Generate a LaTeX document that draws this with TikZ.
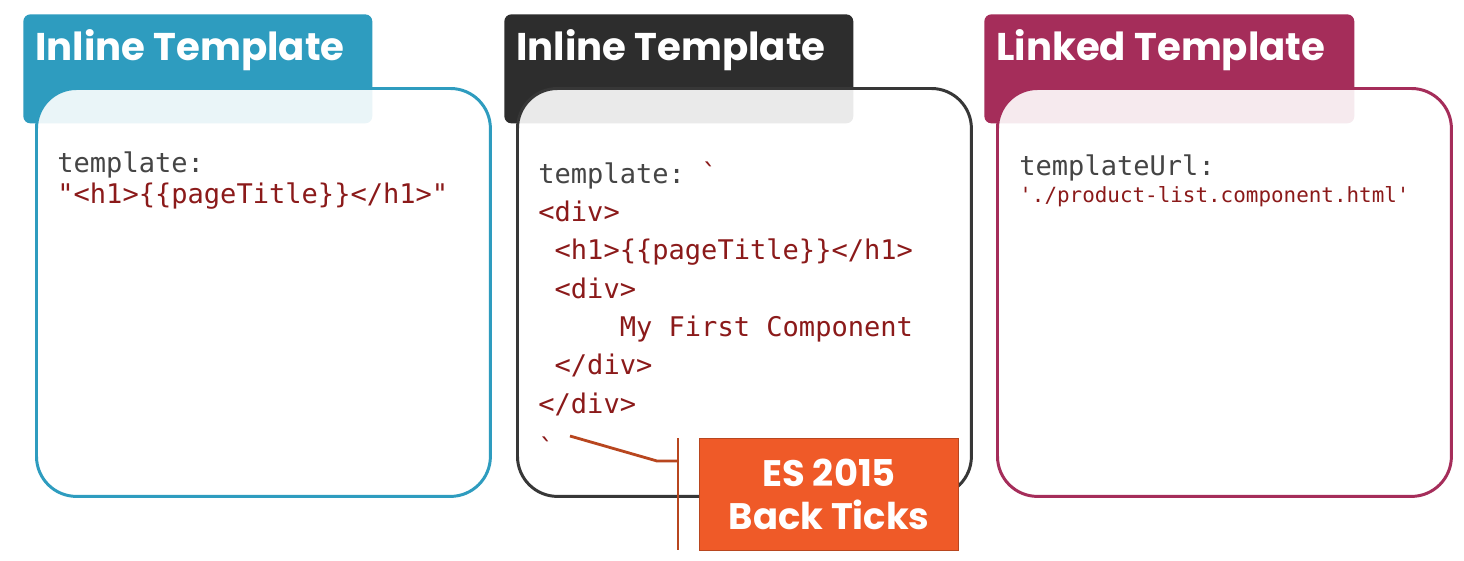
\documentclass[tikz,border=0pt]{standalone}
\usepackage{fontspec}
\setmainfont{Poppins}
\setmonofont{DejaVu Sans Mono}
\usetikzlibrary{positioning}

\definecolor{tealblue}{HTML}{2E9CBF}
\definecolor{darkgrey}{HTML}{2D2D2D}
\definecolor{berry}{HTML}{A52D5A}
\definecolor{codegrey}{HTML}{454545}
\definecolor{codered}{HTML}{8B1A1A}
\definecolor{callout}{HTML}{EF5A28}
\definecolor{calloutline}{HTML}{B8461F}

\newcommand{\tick}{\symbol{96}}
\newcommand{\ind}{\hphantom{x}}

\begin{document}
\begin{tikzpicture}[x=0.02cm, y=-0.02cm,
  tab/.style={rectangle, rounded corners=4pt, anchor=north west, minimum height=2.18cm, inner sep=0pt},
  title/.style={anchor=base west, text=white, inner sep=0pt, font=\bfseries\fontsize{22}{28}\selectfont},
  panel/.style={rectangle, rounded corners=0.8cm, line width=1.7pt, fill=white, fill opacity=0.9, anchor=north west, minimum width=9.08cm, minimum height=8.16cm},
  code/.style={anchor=base west, inner sep=0pt, align=left, font=\ttfamily\fontsize{15.4}{17.6}\selectfont},
  pointer/.style={draw=calloutline, line width=1.6pt}]
\fill[white] (0,0) rectangle (1464,561);
\useasboundingbox (0,0) rectangle (1464,561);
% tabs
\node[tab, fill=tealblue, minimum width=6.98cm] (tabA) at (23,14) {};
\node[tab, fill=darkgrey, minimum width=6.98cm] (tabB) at (504,14) {};
\node[tab, fill=berry, minimum width=7.4cm] (tabC) at (984,14) {};
\node[title] (titleA) at (35,60) {Inline Template};
\node[title] (titleB) at (516,60) {Inline Template};
\node[title] (titleC) at (996,60) {Linked Template};
% panels
\node[panel, draw=tealblue] (boxA) at (35,87) {};
\node[panel, draw=darkgrey!95] (boxB) at (516,87) {};
\node[panel, draw=berry] (boxC) at (996,87) {};
% code (base = last line)
\node[code, text=codegrey] (codeA) at (57,203) {template:\\\textcolor{codered}{"<h1>\{\{pageTitle\}\}</h1>"}};
\node[code, text=codered, font=\ttfamily\fontsize{15.4}{21.8}\selectfont] (codeB) at (538,413) {\textcolor{codegrey}{template:} \tick\\
<div>\\
\ind<h1>\{\{pageTitle\}\}</h1>\\
\ind<div>\\
\ind\ind\ind\ind\ind My First Component\\
\ind</div>\\
</div>};
\node[code, text=codered, font=\ttfamily\fontsize{15.4}{21.8}\selectfont] (tickB) at (538,458) {\tick};
\node[code, text=codegrey] (codeC) at (1019,175) {templateUrl:};
\node[code, text=codered, font=\ttfamily\fontsize{11.9}{14}\selectfont] (urlC) at (1019,202) {\symbol{39}./product-list.component.html\symbol{39}};
% callout
\node[rectangle, fill=callout, draw=calloutline, line width=0.8pt, anchor=north west, minimum width=5.18cm, minimum height=2.24cm, align=center, text=white, font=\bfseries\fontsize{21}{24.4}\selectfont] (es) at (699,438) {ES 2015\\Back Ticks};
\coordinate (barT) at (678,438);
\coordinate (barB) at (678,550);
\coordinate (elbow) at (657,461);
\draw[pointer] (barT) -- (barB);
\draw[pointer] ([xshift=0.3cm]tickB.north east) -- (elbow) -- (elbow -| barT);
\end{tikzpicture}
\end{document}
